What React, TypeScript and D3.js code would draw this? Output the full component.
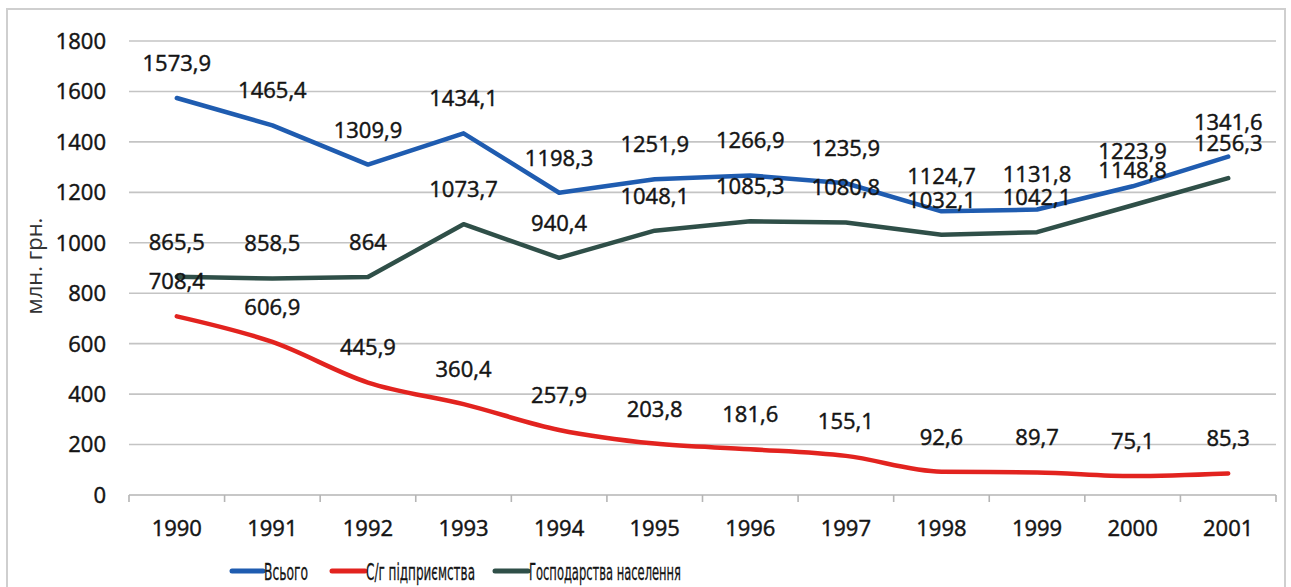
import React from "react";
import * as d3 from "d3";

const years = ["1990", "1991", "1992", "1993", "1994", "1995", "1996", "1997", "1998", "1999", "2000", "2001"];
const total = [1573.9, 1465.4, 1309.9, 1434.1, 1198.3, 1251.9, 1266.9, 1235.9, 1124.7, 1131.8, 1223.9, 1341.6];
const enterprises = [708.4, 606.9, 445.9, 360.4, 257.9, 203.8, 181.6, 155.1, 92.6, 89.7, 75.1, 85.3];
const households = [865.5, 858.5, 864, 1073.7, 940.4, 1048.1, 1085.3, 1080.8, 1032.1, 1042.1, 1148.8, 1256.3];
const yTicks = [0, 200, 400, 600, 800, 1000, 1200, 1400, 1600, 1800];

const series = [
  { name: "Всього", values: total, color: "#1f5cb0", smooth: false },
  { name: "С/г підприємства", values: enterprises, color: "#e2231f", smooth: true },
  { name: "Господарства населення", values: households, color: "#2f4f48", smooth: false },
];

const W = 1291;
const H = 587;
const plot = { left: 129, right: 1276, top: 41, bottom: 495 };
const font = "'Open Sans', 'DejaVu Sans', sans-serif";
const narrow = "'Liberation Sans Narrow', 'DejaVu Sans Condensed', 'Arial Narrow', sans-serif";

// comma decimals like the source
const fmt = (v: number) => String(v).replace(".", ",");

// the scan's text is a little heavier than regular, lighter than bold
const ink = { fill: "#141414", stroke: "#141414", strokeWidth: 0.45 };

export default function App() {
  const x = d3.scaleBand().domain(years).range([plot.left, plot.right]).padding(0);
  const y = d3.scaleLinear().domain([0, 1800]).range([plot.bottom, plot.top]);
  const cx = (yr: string) => (x(yr) as number) + x.bandwidth() / 2;

  // legend swatch x, swatch width, text width (squeezed, the original used a condensed face)
  const legendItems = [
    { x: 232, w: 31, tw: 44 },
    { x: 332, w: 33, tw: 109 },
    { x: 495, w: 33, tw: 152 },
  ];

  return (
    <svg width={W} height={H} style={{ position: "absolute", left: 0, top: 0, background: "#fff" }}>
      <rect x={7} y={9} width={1278} height={H} fill="#fff" stroke="#cfcfcf" strokeWidth={2} />

      {/* grid */}
      {yTicks.map((t) => (
        <g key={t}>
          {t > 0 && (
            <line x1={plot.left} x2={plot.right} y1={y(t)} y2={y(t)} stroke="#c4c4c4" strokeWidth={1.6} />
          )}
          <text x={106} y={y(t)} dy="0.36em" textAnchor="end" fontFamily={font} fontSize={22} {...ink}>
            {t}
          </text>
        </g>
      ))}

      {/* x axis */}
      <line x1={plot.left} x2={plot.right} y1={plot.bottom} y2={plot.bottom} stroke="#b5b5b5" strokeWidth={1.6} />
      {d3.range(years.length + 1).map((i) => {
        const tx = plot.left + i * x.bandwidth();
        return <line key={i} x1={tx} x2={tx} y1={plot.bottom} y2={plot.bottom + 7} stroke="#b5b5b5" strokeWidth={1.6} />;
      })}
      {years.map((yr) => (
        <text key={yr} x={cx(yr)} y={528} dy="0.36em" textAnchor="middle" fontFamily={font} fontSize={22} {...ink}>
          {yr}
        </text>
      ))}

      <text
        transform={`translate(34,266) rotate(-90)`}
        textAnchor="middle"
        dy="0.36em"
        fontFamily={font}
        fontSize={22}
        fill="#333"
      >
        млн. грн.
      </text>

      {/* lines */}
      {series.map((s) => {
        const line = d3
          .line<number>()
          .x((_, i) => cx(years[i]))
          .y((d) => y(d))
          .curve(s.smooth ? d3.curveMonotoneX : d3.curveLinear);
        return (
          <path
            key={s.name}
            d={line(s.values) || ""}
            fill="none"
            stroke={s.color}
            strokeWidth={4.5}
            strokeLinejoin="round"
            strokeLinecap="round"
          />
        );
      })}

      {/* data labels */}
      {series.map((s) =>
        s.values.map((v, i) => (
          <text
            key={s.name + i}
            x={cx(years[i])}
            y={y(v) - 35}
            dy="0.36em"
            textAnchor="middle"
            fontFamily={font}
            fontSize={22}
            {...ink}
          >
            {fmt(v)}
          </text>
        ))
      )}

      {/* legend */}
      {series.map((s, i) => (
        <g key={s.name}>
          <line
            x1={legendItems[i].x}
            x2={legendItems[i].x + legendItems[i].w}
            y1={571}
            y2={571}
            stroke={s.color}
            strokeWidth={5}
            strokeLinecap="round"
          />
          <text
            x={legendItems[i].x + legendItems[i].w + 1}
            y={572}
            dy="0.36em"
            fontFamily={narrow}
            fontSize={23}
            textLength={legendItems[i].tw}
            lengthAdjust="spacingAndGlyphs"
            {...ink}
            strokeWidth={0.3}
          >
            {s.name}
          </text>
        </g>
      ))}
    </svg>
  );
}
